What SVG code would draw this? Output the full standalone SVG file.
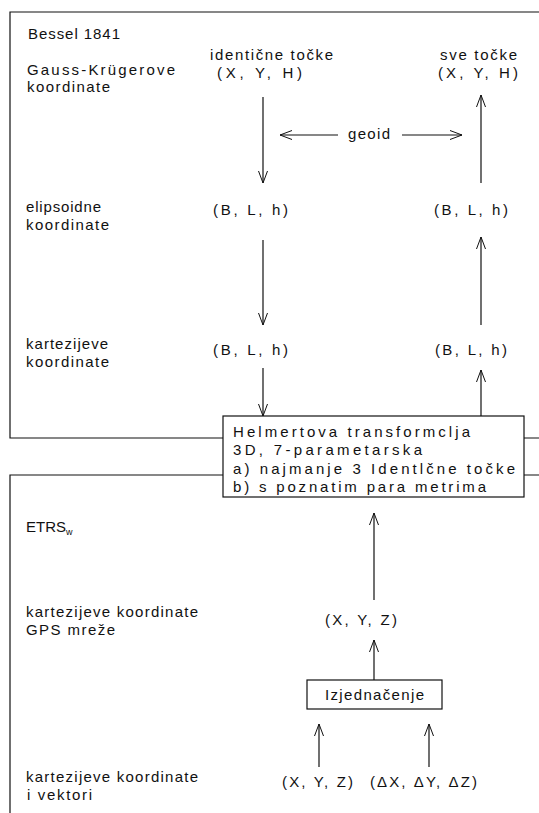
<svg xmlns="http://www.w3.org/2000/svg" width="539" height="813" viewBox="0 0 539 813">
<defs>
<marker id="ah" viewBox="0 0 14 12" refX="13" refY="6" markerWidth="14" markerHeight="12" markerUnits="userSpaceOnUse" orient="auto">
<path d="M1,1.5 L13,6 L1,10.5" fill="none" stroke="#111" stroke-width="1"/>
</marker>
<style>
text{font-family:"Liberation Sans",Arial,sans-serif;font-size:15px;fill:#111}
.ln{fill:none;stroke:#111;stroke-width:1.2}
.ar{fill:none;stroke:#111;stroke-width:1.2;marker-end:url(#ah)}
.box{fill:#fff;stroke:#111;stroke-width:1.2}
</style>
</defs>
<rect width="539" height="813" fill="#fff"/>
<g id="frames">
<path class="ln" d="M539,12 H10 V438 H223 M524,438 H539"/>
<path class="ln" d="M10,813 V475 H223 M524,475 H539"/>
</g>
<g id="labels">
<text x="28" y="39" textLength="92" lengthAdjust="spacing">Bessel 1841</text>
<text x="27" y="75" textLength="148" lengthAdjust="spacing">Gauss-Krügerove</text>
<text x="27" y="92" textLength="83" lengthAdjust="spacing">koordinate</text>
<text x="26" y="212" textLength="75" lengthAdjust="spacing">elipsoidne</text>
<text x="26" y="230" textLength="83" lengthAdjust="spacing">koordinate</text>
<text x="26" y="349" textLength="82" lengthAdjust="spacing">kartezijeve</text>
<text x="26" y="367" textLength="83" lengthAdjust="spacing">koordinate</text>
<text x="26" y="532">ETRS<tspan font-size="9" dy="3">w</tspan></text>
<text x="26" y="617" textLength="172" lengthAdjust="spacing">kartezijeve koordinate</text>
<text x="26" y="635" textLength="89" lengthAdjust="spacing">GPS mreže</text>
<text x="26" y="782" textLength="172" lengthAdjust="spacing">kartezijeve koordinate</text>
<text x="27" y="800" textLength="65" lengthAdjust="spacing">i vektori</text>
</g>
<g id="n-ident">
<text x="210" y="60" textLength="123" lengthAdjust="spacing">identične točke</text>
<text x="217" y="78" textLength="85" lengthAdjust="spacing">(X, Y, H)</text>
</g>
<g id="n-sve">
<text x="440" y="60" textLength="77" lengthAdjust="spacing">sve točke</text>
<text x="438" y="78" textLength="80" lengthAdjust="spacing">(X, Y, H)</text>
</g>
<g id="n-geoid">
<text x="348" y="139" textLength="42" lengthAdjust="spacing">geoid</text>
</g>
<g id="n-blh-el-l"><text x="213" y="215" textLength="75" lengthAdjust="spacing">(B, L, h)</text></g>
<g id="n-blh-el-r"><text x="434" y="215" textLength="74" lengthAdjust="spacing">(B, L, h)</text></g>
<g id="n-blh-ka-l"><text x="213" y="355" textLength="75" lengthAdjust="spacing">(B, L, h)</text></g>
<g id="n-blh-ka-r"><text x="435" y="355" textLength="72" lengthAdjust="spacing">(B, L, h)</text></g>
<g id="n-helmert">
<rect class="box" x="223" y="416" width="301" height="81"/>
<text x="233" y="437" textLength="237" lengthAdjust="spacing">Helmertova transformclja</text>
<text x="233" y="455" textLength="189" lengthAdjust="spacing">3D, 7-parametarska</text>
<text x="233" y="474" textLength="282" lengthAdjust="spacing">a) najmanje 3 Identlčne točke</text>
<text x="233" y="492" textLength="253" lengthAdjust="spacing">b) s poznatim para metrima</text>
</g>
<g id="n-xyz-gps"><text x="325" y="625" textLength="72" lengthAdjust="spacing">(X, Y, Z)</text></g>
<g id="n-izj">
<rect class="box" x="307" y="680" width="135" height="29"/>
<text x="325" y="700" textLength="99" lengthAdjust="spacing">Izjednačenje</text>
</g>
<g id="n-xyz-b"><text x="282" y="787" textLength="71" lengthAdjust="spacing">(X, Y, Z)</text></g>
<g id="n-dxyz-b"><text x="370" y="787" textLength="107" lengthAdjust="spacing">(ΔX, ΔY, ΔZ)</text></g>
<g id="connectors">
<line class="ar" x1="263" y1="97" x2="263" y2="183"/>
<line class="ar" x1="263" y1="240" x2="263" y2="325"/>
<line class="ar" x1="263" y1="368" x2="263" y2="416"/>
<line class="ar" x1="481" y1="416" x2="481" y2="370"/>
<line class="ar" x1="481" y1="325" x2="481" y2="237"/>
<line class="ar" x1="481" y1="183" x2="481" y2="95"/>
<line class="ar" x1="338" y1="135" x2="280" y2="135"/>
<line class="ar" x1="402" y1="135" x2="462" y2="135"/>
<line class="ar" x1="374" y1="600" x2="374" y2="513"/>
<line class="ar" x1="374" y1="680" x2="374" y2="640"/>
<line class="ar" x1="319" y1="767" x2="319" y2="724"/>
<line class="ar" x1="429" y1="767" x2="429" y2="724"/>
</g>
</svg>
